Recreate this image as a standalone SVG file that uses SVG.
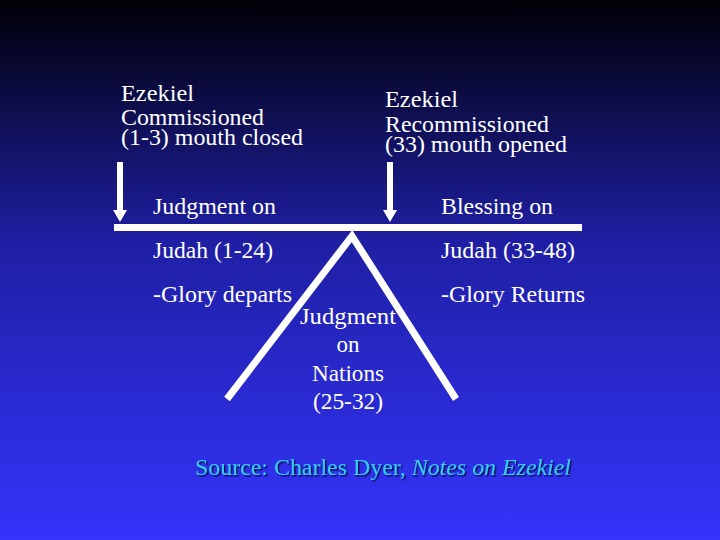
<svg xmlns="http://www.w3.org/2000/svg" width="720" height="540" viewBox="0 0 720 540">
<defs>
<linearGradient id="bg" x1="0" y1="0" x2="0" y2="1">
<stop offset="0" stop-color="#000006"/>
<stop offset="0.45" stop-color="#1f1fa4"/>
<stop offset="1" stop-color="#3434fc"/>
</linearGradient>
<filter id="shadow" x="-5%" y="-30%" width="110%" height="160%">
<feDropShadow dx="1.5" dy="1.5" stdDeviation="0.3" flood-color="#0a0a50" flood-opacity="1"/>
</filter>
<style>
.t{fill:#ffffff}
.c{text-anchor:middle}
.w{fill:#ffffff}
.ln{fill:none;stroke:#ffffff;stroke-width:7}
.src{fill:#33ccf2}
</style>
</defs>
<rect width="720" height="540" fill="url(#bg)"/>
<g id="connectors">
<rect class="w" x="114" y="224" width="468" height="7"/>
<polyline class="ln" points="227,399 352,236 456,399" stroke-linejoin="miter"/>
<g id="arrow1"><rect class="w" x="117" y="162" width="6" height="49"/><polygon class="w" points="113,210 127,210 120,222"/></g>
<g id="arrow2"><rect class="w" x="387" y="162" width="6" height="49"/><polygon class="w" points="383,210 397,210 390,222"/></g>
</g>
<g font-family="Liberation Serif" font-size="23">
<g id="commissioned">
<text class="t" x="121" y="101" textLength="73" lengthAdjust="spacingAndGlyphs">Ezekiel</text>
<text class="t" x="121" y="125" textLength="143" lengthAdjust="spacingAndGlyphs">Commissioned</text>
<text class="t" x="121" y="145" textLength="182" lengthAdjust="spacingAndGlyphs">(1-3) mouth closed</text>
</g>
<g id="recommissioned">
<text class="t" x="385" y="107" textLength="73" lengthAdjust="spacingAndGlyphs">Ezekiel</text>
<text class="t" x="385" y="132" textLength="164" lengthAdjust="spacingAndGlyphs">Recommissioned</text>
<text class="t" x="385" y="152" textLength="182" lengthAdjust="spacingAndGlyphs">(33) mouth opened</text>
</g>
<g id="judah-judgment">
<text class="t" x="153" y="214" textLength="123" lengthAdjust="spacingAndGlyphs">Judgment on</text>
<text class="t" x="153" y="258" textLength="120" lengthAdjust="spacingAndGlyphs">Judah (1-24)</text>
<text class="t" x="153" y="302" textLength="139" lengthAdjust="spacingAndGlyphs">-Glory departs</text>
</g>
<g id="judah-blessing">
<text class="t" x="441" y="214" textLength="112" lengthAdjust="spacingAndGlyphs">Blessing on</text>
<text class="t" x="441" y="258" textLength="134" lengthAdjust="spacingAndGlyphs">Judah (33-48)</text>
<text class="t" x="441" y="302" textLength="144" lengthAdjust="spacingAndGlyphs">-Glory Returns</text>
</g>
<g id="nations">
<text class="t c" x="348" y="324" textLength="96" lengthAdjust="spacingAndGlyphs">Judgment</text>
<text class="t c" x="348" y="352">on</text>
<text class="t c" x="348" y="381" textLength="72" lengthAdjust="spacingAndGlyphs">Nations</text>
<text class="t c" x="348" y="409" textLength="70" lengthAdjust="spacingAndGlyphs">(25-32)</text>
</g>
<g id="source">
<text class="src" x="195" y="475" textLength="376" lengthAdjust="spacingAndGlyphs" filter="url(#shadow)">Source: Charles Dyer, <tspan font-style="italic">Notes on Ezekiel</tspan></text>
</g>
</g>
</svg>
